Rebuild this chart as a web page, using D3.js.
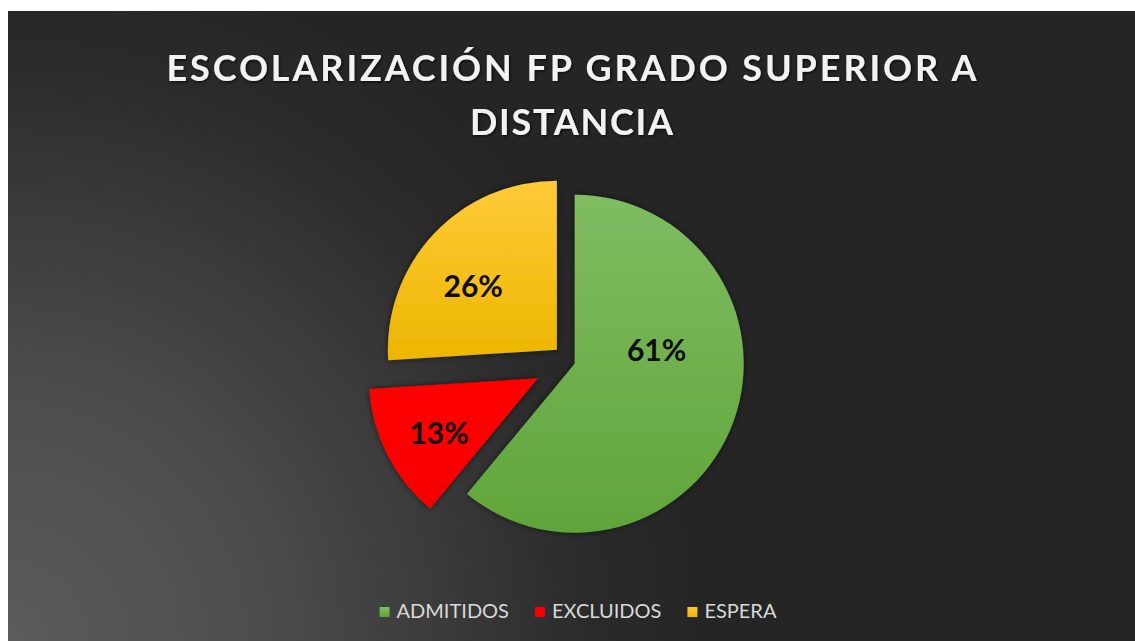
<!DOCTYPE html>
<html>
<head>
    <meta charset="utf-8">
    <title>escolarizacion fp</title>
    <script type="text/javascript" src="https://d3js.org/d3.v7.min.js"></script>
    <style>
        body{
            margin:0px;
            background:#ffffff;
        }
        svg{
            position:absolute;
            left:0px;
            top:0px;
        }
    </style>
</head>
<body>
    <div id="chart"></div>
    <script type="text/javascript">
        // chart data
        var categories = ["ADMITIDOS","EXCLUIDOS","ESPERA"]
        var values = [61,13,26]
        var percentLabels = ["61%","13%","26%"]
        var titleLines = ["ESCOLARIZACIÓN FP GRADO SUPERIOR A","DISTANCIA"]

        var width = 1135
        var height = 641
        var radius = 169
        var center = [570,362]
        var explode = [5,36,18]          // how far each slice is pulled out
        var labelRadius = [83,113,105]
        var labelShift = [-29,-2,-6]      // degrees, label angle vs slice middle

        var svg = d3.select("#chart").append("svg")
            .attr("width",width)
            .attr("height",height)

        var defs = svg.append("defs")

        //background: dark with a lighter glow from the bottom left corner
        var bg = defs.append("radialGradient")
            .attr("id","bg")
            .attr("gradientUnits","userSpaceOnUse")
            .attr("cx",8).attr("cy",641).attr("r",700)
        bg.append("stop").attr("offset","0%").attr("stop-color","#5b5b5b")
        bg.append("stop").attr("offset","35%").attr("stop-color","#4d4d4d")
        bg.append("stop").attr("offset","60%").attr("stop-color","#3c3c3c")
        bg.append("stop").attr("offset","84%").attr("stop-color","#2a2a2a")
        bg.append("stop").attr("offset","100%").attr("stop-color","#252525")

        var sliceColors = [["#80bc62","#60a53a"],["#ff0000","#f80000"],["#ffca38","#edb600"]]
        sliceColors.forEach(function(c,i){
            var g = defs.append("linearGradient")
                .attr("id","slice"+i)
                .attr("x1",0).attr("y1",0).attr("x2",0).attr("y2",1)
            g.append("stop").attr("offset","0%").attr("stop-color",c[0])
            g.append("stop").attr("offset","100%").attr("stop-color",c[1])
        })

        var shadow = defs.append("filter").attr("id","shadow")
            .attr("x","-20%").attr("y","-20%").attr("width","140%").attr("height","140%")
        shadow.append("feDropShadow")
            .attr("dx",0).attr("dy",0).attr("stdDeviation",3)
            .attr("flood-color","#000000").attr("flood-opacity",0.55)

        var textShadow = defs.append("filter").attr("id","textShadow")
        textShadow.append("feDropShadow")
            .attr("dx",1).attr("dy",1).attr("stdDeviation",1.5)
            .attr("flood-color","#000000").attr("flood-opacity",0.8)

        svg.append("rect")
            .attr("x",8).attr("y",11)
            .attr("width",width-8).attr("height",height-11)
            .attr("fill","url(#bg)")

        //title
        var titleY = [81,135]
        var titleW = [810,203]
        svg.selectAll(".title")
            .data(titleLines)
            .enter()
            .append("text")
            .attr("class","title")
            .attr("x",width/2+4)
            .attr("y",function(d,i){ return titleY[i] })
            .attr("text-anchor","middle")
            .attr("textLength",function(d,i){ return titleW[i] })
            .attr("lengthAdjust","spacing")
            .attr("font-family","Lato, 'Open Sans', sans-serif")
            .attr("font-weight","bold")
            .attr("font-size","36px")
            .attr("fill","#f2f2f2")
            .attr("filter","url(#textShadow)")
            .text(function(d){ return d })

        //pie
        var pie = d3.pie().sort(null).value(function(d){ return d })
        var arcs = pie(values)
        var arc = d3.arc().innerRadius(0).outerRadius(radius)

        function offset(d,i){
            var mid = (d.startAngle+d.endAngle)/2
            return [Math.sin(mid)*explode[i], -Math.cos(mid)*explode[i]]
        }

        var slices = svg.selectAll(".slice")
            .data(arcs)
            .enter()
            .append("g")
            .attr("class","slice")
            .attr("transform",function(d,i){
                var o = offset(d,i)
                return "translate("+(center[0]+o[0])+","+(center[1]+o[1])+")"
            })

        slices.append("path")
            .attr("d",arc)
            .attr("fill",function(d,i){ return "url(#slice"+i+")" })
            .attr("filter","url(#shadow)")

        slices.append("text")
            .attr("transform",function(d,i){
                var a = (d.startAngle+d.endAngle)/2 + labelShift[i]*Math.PI/180
                var p = d3.arc().innerRadius(labelRadius[i]).outerRadius(labelRadius[i])
                    .centroid({startAngle:a,endAngle:a})
                return "translate("+p[0]+","+p[1]+")"
            })
            .attr("dy","0.36em")
            .attr("text-anchor","middle")
            .attr("font-family","Lato, 'Open Sans', sans-serif")
            .attr("font-weight","bold")
            .attr("font-size","30px")
            .attr("fill","#0d0d0d")
            .text(function(d,i){ return percentLabels[i] })

        //legend
        var legend = svg.append("g").attr("class","legend")
        var lx = 0
        categories.forEach(function(c,i){
            var item = legend.append("g").attr("transform","translate("+lx+",0)")
            item.append("rect")
                .attr("x",0).attr("y",-11)
                .attr("width",10).attr("height",10)
                .attr("fill","url(#slice"+i+")")
            var t = item.append("text")
                .attr("x",17).attr("y",0)
                .attr("font-family","Lato, 'Open Sans', sans-serif")
                .attr("font-size","20px")
                .attr("fill","#d9d9d9")
                .text(c)
            lx += 17 + t.node().getComputedTextLength() + 26
        })
        var legendW = lx - 26
        legend.attr("transform","translate("+(578-legendW/2)+",618)")
    </script>
</body>
</html>
